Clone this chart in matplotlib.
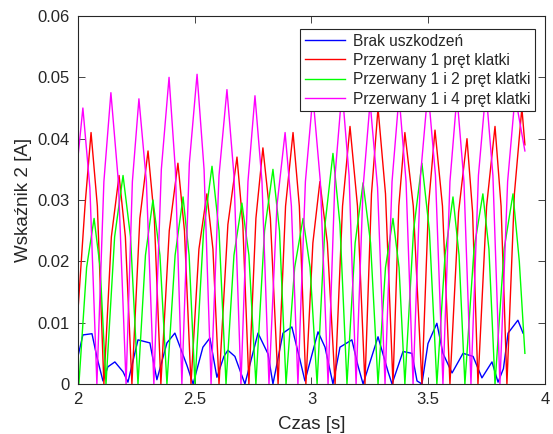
import matplotlib.pyplot as plt

# Czas [s] i wartości wskaźnika 2 [A] odczytane w punktach charakterystycznych
t_brak = [2.000, 2.021, 2.060, 2.081, 2.107, 2.128, 2.158, 2.193, 2.214, 2.257,
          2.308, 2.338, 2.381, 2.415, 2.467, 2.493, 2.535, 2.565, 2.595, 2.625,
          2.642, 2.672, 2.715, 2.771, 2.814, 2.835, 2.878, 2.916, 2.951, 2.972,
          3.028, 3.058, 3.092, 3.122, 3.173, 3.199, 3.221, 3.285, 3.328, 3.345,
          3.392, 3.430, 3.452, 3.473, 3.499, 3.537, 3.563, 3.602, 3.649, 3.692,
          3.730, 3.773, 3.799, 3.822, 3.842, 3.884, 3.906]
v_brak = [0.0045, 0.0080, 0.0082, 0.0044, 0.0005, 0.0028, 0.0036, 0.0020, 0.0003, 0.0072,
          0.0067, 0.0007, 0.0067, 0.0083, 0.0030, 0.0000, 0.0060, 0.0075, 0.0011, 0.0045,
          0.0055, 0.0045, 0.0000, 0.0083, 0.0049, 0.0000, 0.0083, 0.0093, 0.0039, 0.0005,
          0.0085, 0.0060, 0.0000, 0.0060, 0.0072, 0.0030, 0.0000, 0.0077, 0.0020, 0.0000,
          0.0053, 0.0050, 0.0005, 0.0000, 0.0066, 0.0099, 0.0050, 0.0018, 0.0050, 0.0045,
          0.0010, 0.0036, 0.0003, 0.0025, 0.0083, 0.0104, 0.0083]

t_1pret = [2.000, 2.030, 2.056, 2.083, 2.111, 2.143, 2.176, 2.203, 2.231, 2.265,
           2.300, 2.327, 2.355, 2.391, 2.428, 2.456, 2.484, 2.518, 2.552, 2.578,
           2.604, 2.642, 2.681, 2.706, 2.732, 2.762, 2.792, 2.824, 2.857, 2.889,
           2.921, 2.948, 2.976, 3.006, 3.036, 3.068, 3.101, 3.133, 3.165, 3.197,
           3.229, 3.257, 3.285, 3.317, 3.349, 3.374, 3.400, 3.436, 3.473, 3.501,
           3.529, 3.561, 3.593, 3.630, 3.666, 3.690, 3.713, 3.750, 3.786, 3.812,
           3.837, 3.869, 3.901, 3.914]
v_1pret = [0.0120, 0.0290, 0.0410, 0.0290, 0.0000, 0.0240, 0.0340, 0.0240, 0.0000, 0.0270,
           0.0380, 0.0270, 0.0000, 0.0250, 0.0360, 0.0250, 0.0000, 0.0220, 0.0310, 0.0220,
           0.0000, 0.0260, 0.0370, 0.0260, 0.0000, 0.0270, 0.0385, 0.0270, 0.0000, 0.0290,
           0.0410, 0.0290, 0.0000, 0.0230, 0.0330, 0.0230, 0.0000, 0.0290, 0.0420, 0.0290,
           0.0000, 0.0310, 0.0450, 0.0310, 0.0000, 0.0290, 0.0410, 0.0290, 0.0000, 0.0290,
           0.0414, 0.0290, 0.0000, 0.0280, 0.0400, 0.0280, 0.0000, 0.0290, 0.0420, 0.0290,
           0.0000, 0.0310, 0.0450, 0.0390]

t_1i2 = [2.000, 2.004, 2.037, 2.069, 2.095, 2.120, 2.157, 2.193, 2.225, 2.257,
         2.289, 2.321, 2.351, 2.381, 2.416, 2.450, 2.476, 2.501, 2.538, 2.574,
         2.604, 2.634, 2.668, 2.702, 2.732, 2.762, 2.799, 2.835, 2.863, 2.891,
         2.928, 2.964, 2.994, 3.024, 3.058, 3.092, 3.122, 3.152, 3.187, 3.221,
         3.253, 3.285, 3.317, 3.349, 3.375, 3.400, 3.437, 3.473, 3.505, 3.537,
         3.572, 3.606, 3.632, 3.657, 3.696, 3.734, 3.760, 3.786, 3.825, 3.863,
         3.890, 3.914]
v_1i2 = [0.0030, 0.0000, 0.0190, 0.0270, 0.0190, 0.0000, 0.0240, 0.0340, 0.0240, 0.0000,
         0.0210, 0.0300, 0.0210, 0.0000, 0.0210, 0.0305, 0.0210, 0.0000, 0.0250, 0.0355,
         0.0250, 0.0000, 0.0210, 0.0295, 0.0210, 0.0000, 0.0250, 0.0350, 0.0250, 0.0000,
         0.0190, 0.0270, 0.0190, 0.0000, 0.0260, 0.0376, 0.0260, 0.0000, 0.0230, 0.0328,
         0.0230, 0.0000, 0.0190, 0.0270, 0.0190, 0.0000, 0.0250, 0.0360, 0.0250, 0.0000,
         0.0210, 0.0305, 0.0210, 0.0000, 0.0220, 0.0310, 0.0220, 0.0000, 0.0220, 0.0310,
         0.0200, 0.0050]

t_1i4 = [2.000, 2.021, 2.051, 2.081, 2.111, 2.141, 2.173, 2.206, 2.233, 2.261,
         2.293, 2.325, 2.357, 2.390, 2.417, 2.445, 2.477, 2.510, 2.540, 2.570,
         2.604, 2.638, 2.668, 2.698, 2.728, 2.758, 2.788, 2.818, 2.852, 2.887,
         2.914, 2.942, 2.974, 3.006, 3.038, 3.071, 3.101, 3.131, 3.161, 3.191,
         3.221, 3.251, 3.283, 3.315, 3.345, 3.375, 3.405, 3.435, 3.467, 3.499,
         3.531, 3.563, 3.593, 3.623, 3.653, 3.683, 3.715, 3.747, 3.777, 3.807,
         3.840, 3.872, 3.914]
v_1i4 = [0.0370, 0.0450, 0.0320, 0.0000, 0.0330, 0.0475, 0.0330, 0.0000, 0.0330, 0.0465,
         0.0330, 0.0000, 0.0350, 0.0500, 0.0350, 0.0000, 0.0360, 0.0505, 0.0350, 0.0000,
         0.0340, 0.0480, 0.0340, 0.0000, 0.0330, 0.0470, 0.0330, 0.0000, 0.0290, 0.0410,
         0.0290, 0.0000, 0.0330, 0.0470, 0.0330, 0.0000, 0.0340, 0.0480, 0.0340, 0.0000,
         0.0320, 0.0460, 0.0320, 0.0000, 0.0330, 0.0470, 0.0330, 0.0000, 0.0340, 0.0480,
         0.0340, 0.0000, 0.0330, 0.0470, 0.0330, 0.0000, 0.0340, 0.0480, 0.0340, 0.0000,
         0.0330, 0.0470, 0.0380]

etykiety = ['Brak uszkodzeń', 'Przerwany 1 pręt klatki',
            'Przerwany 1 i 2 pręt klatki', 'Przerwany 1 i 4 pręt klatki']
x_ticks = [2, 2.5, 3, 3.5, 4]
x_labels = ['2', '2.5', '3', '3.5', '4']
y_ticks = [0, 0.01, 0.02, 0.03, 0.04, 0.05, 0.06]
y_labels = ['0', '0.01', '0.02', '0.03', '0.04', '0.05', '0.06']

plt.rcParams['font.family'] = ['Liberation Sans', 'DejaVu Sans']
szary = '#262626'

fig = plt.figure(figsize=(5.53, 4.34), dpi=100)
ax = fig.add_axes([0.141, 0.1152, 0.8445, 0.8479])

ax.plot(t_brak, v_brak, color=(0, 0, 1), lw=1.0, label=etykiety[0])
ax.plot(t_1pret, v_1pret, color=(1, 0, 0), lw=1.0, label=etykiety[1])
ax.plot(t_1i2, v_1i2, color=(0, 1, 0), lw=1.0, label=etykiety[2])
ax.plot(t_1i4, v_1i4, color=(1, 0, 1), lw=1.0, label=etykiety[3])

ax.set_xlim(2, 4)
ax.set_ylim(0, 0.06)
ax.set_xticks(x_ticks)
ax.set_xticklabels(x_labels)
ax.set_yticks(y_ticks)
ax.set_yticklabels(y_labels)
ax.tick_params(direction='in', top=True, right=True, length=5, width=0.6,
               labelsize=12, colors=szary, pad=6)
for s in ax.spines.values():
    s.set_color(szary)
    s.set_linewidth(0.8)

ax.set_xlabel('Czas [s]', fontsize=13.5, color=szary, labelpad=6)
ax.set_ylabel('Wskaźnik 2 [A]', fontsize=13.5, color=szary, labelpad=4)

leg = ax.legend(loc='upper right', bbox_to_anchor=(0.979, 0.965), fontsize=11.2,
                fancybox=False, framealpha=1, edgecolor=szary, handlelength=2.6,
                labelspacing=0.28, borderpad=0.3, handletextpad=0.5, borderaxespad=0)
leg.get_frame().set_linewidth(0.8)
for txt in leg.get_texts():
    txt.set_color(szary)

fig.savefig('out.png', dpi=100)
